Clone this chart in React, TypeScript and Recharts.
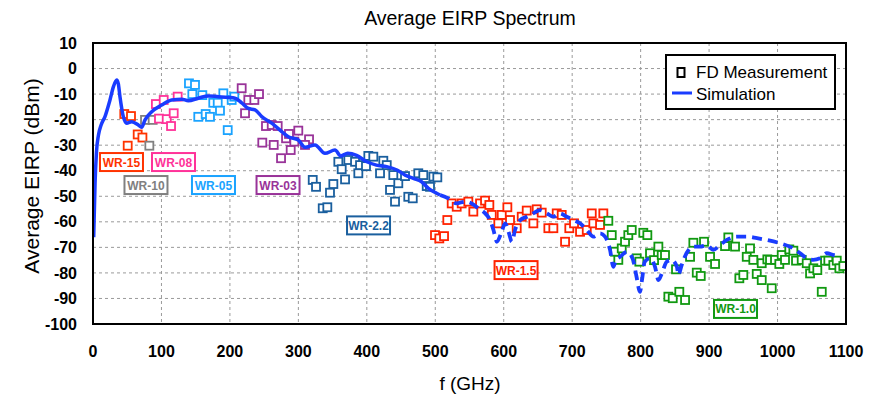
import React from "react";
import {
	CartesianGrid,
	ComposedChart,
	Line,
	ReferenceArea,
	ReferenceDot,
	Scatter,
	XAxis,
	YAxis,
} from "recharts";

type Pt = [number, number];

const xTicks = [0, 100, 200, 300, 400, 500, 600, 700, 800, 900, 1000, 1100];
const yTicks = [10, 0, -10, -20, -30, -40, -50, -60, -70, -80, -90, -100];

// measured points, [f (GHz), EIRP (dBm)]
const wr15: Pt[] = [
	[45.7, -17.8], [55.5, -18.6], [65.3, -25.8], [72.2, -27.0], [50.7, -30.2],
];
const wr10: Pt[] = [[76, -20.1], [87.2, -20.1], [82.3, -30.2]];
const wr08: Pt[] = [
	[91.9, -13.9], [103.3, -12.3], [123.7, -11.0], [96.4, -19.6],
	[107.7, -19.8], [117.9, -17.5], [114.0, -22.5],
];
const wr05: Pt[] = [
	[140.2, -5.8], [149.0, -6.4], [145.1, -10.0], [159.7, -10.4], [175.7, -13.4],
	[182.2, -13.4], [190.4, -9.7], [202.6, -12.3], [206.4, -11.0], [185.5, -16.5],
	[153.8, -18.9], [164.6, -17.8], [170.9, -18.9], [196.8, -24.1],
];
const wr03: Pt[] = [
	[217.2, -7.7], [226.9, -12.3], [235.7, -12.3], [242.5, -10.0], [222.1, -17.5],
	[252.7, -22.5], [261.1, -22.1], [269.8, -22.5], [282.0, -27.3], [286.3, -25.6],
	[299.9, -24.3], [294.1, -28.6], [315.6, -27.7], [247.3, -29.0], [264.0, -29.9],
	[288.8, -31.9], [274.7, -35.1], [309.7, -29.9],
];
const wr22: Pt[] = [
	[321.0, -43.6], [325.8, -46.3], [335.6, -54.7], [342.3, -54.3], [346.2, -48.6],
	[351.1, -45.2], [358.4, -36.5], [363.3, -39.4], [368.2, -43.4], [373.0, -35.8],
	[382.8, -36.5], [387.6, -41.0], [390.1, -37.8], [398.8, -38.2], [402.2, -34.2],
	[409.5, -34.5], [419.3, -41.0], [424.1, -36.1], [429.1, -37.8], [433.9, -47.5],
	[438.7, -41.7], [441.2, -52.1], [446.0, -44.9], [455.8, -42.1], [460.6, -50.2],
	[467.1, -50.8], [475.2, -41.0], [482.5, -41.7], [487.5, -46.0], [492.3, -46.3],
	[497.2, -42.3], [503.0, -42.6],
];
const wr1p5: Pt[] = [
	[524.0, -52.8], [531.3, -54.1], [538.6, -52.8], [548.3, -52.1], [555.6, -56.0],
	[565.4, -52.8], [572.7, -51.7], [579.0, -53.4], [582.5, -57.3], [592.1, -60.6],
	[597.1, -57.3], [605.3, -54.3], [609.2, -59.3], [619.0, -62.5], [626.3, -58.0],
	[633.6, -55.6], [643.3, -60.6], [648.2, -55.1], [655.5, -56.4], [665.2, -62.5],
	[672.5, -62.5], [677.4, -56.7], [684.7, -57.3], [689.6, -67.8], [695.8, -62.5],
	[702.7, -60.6], [711.5, -63.9], [721.3, -63.2], [728.6, -56.7], [730.9, -60.6],
	[740.7, -61.2], [745.5, -56.7], [517.6, -59.3], [499.6, -65.2], [505.9, -66.5],
	[512.8, -65.6],
];
const wr1p0: Pt[] = [
	[752.8, -59.6], [757.8, -65.2], [762.6, -71.7], [767.4, -74.9], [772.4, -70.4],
	[777.2, -67.8], [782.0, -65.2], [787.0, -63.2], [794.3, -74.3], [798.1, -75.6],
	[803.9, -64.3], [809.8, -65.2], [813.7, -72.3], [819.6, -75.0], [825.9, -69.7],
	[830.8, -73.0], [835.6, -73.0], [840.5, -89.3], [846.9, -89.9], [856.5, -87.4],
	[864.9, -90.6], [851.7, -78.6], [872.2, -73.7], [877.0, -68.2], [882.0, -79.9],
	[887.8, -81.2], [892.6, -67.8], [901.4, -73.7], [908.7, -76.5], [923.3, -69.5],
	[928.1, -66.1], [937.9, -69.7], [944.2, -82.1], [950.0, -80.8], [955.0, -73.7],
	[959.8, -70.4], [964.6, -74.9], [969.6, -80.4], [976.9, -82.8], [976.9, -76.2],
	[985.1, -74.7], [989.0, -74.9], [991.5, -86.0], [996.3, -74.9], [1002.6, -76.5],
	[1006.1, -73.0], [1010.9, -74.9], [1017.2, -70.8], [1023.1, -71.3], [1027.0, -75.2],
	[1035.3, -74.9], [1042.6, -76.2], [1047.5, -80.2], [1052.3, -78.2], [1058.1, -78.9],
	[1064.6, -87.4], [1069.4, -75.2], [1074.2, -75.2], [1081.5, -76.9], [1086.5, -75.2],
	[1090.3, -78.2], [1096.1, -77.3],
];

// simulation, solid part then dashed part
const simSolid: Pt[] = [
	[1, -66], [3, -45], [5, -33], [8, -26], [12, -22], [17.5, -18.8], [24.8, -12.3],
	[30, -7], [34.6, -4.5], [37, -6], [39.4, -11], [44.3, -18.8], [49.2, -21.4],
	[56.5, -20.8], [66.2, -22.1], [71.1, -23], [76, -20.1], [85.8, -16.9],
	[100.4, -14.3], [115, -12.3], [129.6, -12], [139.2, -12.6], [153.8, -11.6],
	[168.4, -10.7], [183.1, -11], [197.7, -11.3], [207.4, -11.6], [217.2, -13.4],
	[226.9, -15.6], [236.7, -16.2], [246.5, -18.8], [261.1, -21.4], [275.7, -24.7],
	[285.3, -26.7], [299.9, -28], [309.7, -30.8], [324.3, -29.9], [338.9, -33.2],
	[353.5, -31.9], [362, -34.2], [372, -33.2], [385, -34], [400, -36.5],
	[414, -37.8], [429, -38.4], [444, -39.7], [456, -41.7], [468, -43],
	[480, -44.3], [490, -46.9], [502, -48.8], [507, -49.5],
];
const simDashed: Pt[] = [
	[507, -49.5], [519, -50.8], [531, -52.8], [543.5, -52.1], [553, -52.8],
	[563, -54.7], [573, -56.7], [580, -59.3], [585, -63.2], [590, -67.8],
	[597, -63.9], [602, -60.6], [607, -63.9], [612, -67.8], [616.5, -63.2],
	[624, -59.3], [634, -58], [643, -56.7], [653, -55.4], [663, -56.7],
	[672.5, -58], [682, -56.7], [692, -58], [702, -59.3], [711.5, -60.6],
	[721.3, -63.2], [730.9, -65.8], [740.7, -64.5], [748, -65.8], [755.3, -71],
	[760.1, -77.6], [764, -74.9], [770, -73.7], [780, -71.7], [789, -74.9],
	[794, -81.5], [799, -87.4], [802, -82.8], [806, -75.6], [814, -74.3],
	[821, -77.6], [826, -82.8], [831, -80.2], [838, -75.6], [845, -74.9],
	[853, -77.6], [855, -80.8], [860, -76.9], [867, -72.3], [877, -69.7],
	[887, -69.7], [897, -69.1], [906, -71], [916, -69.1], [926, -67.1],
	[940, -65.8], [955, -65.8], [970, -66.4], [984, -67.1], [1004, -68.4],
	[1023, -70.4], [1033, -72.3], [1043, -74.3], [1052, -74.9], [1062, -74.3],
	[1072, -72.3], [1082, -73], [1091, -73.4],
];

// band labels: [text, f, v, colour]
const bandLabels: [string, number, number, string][] = [
	["WR-15", 41.6, -36.6, "#ff3300"],
	["WR-08", 117.6, -36.6, "#ff3399"],
	["WR-10", 77.4, -45.6, "#808080"],
	["WR-05", 176, -45.6, "#1aa3ff"],
	["WR-03", 270.3, -45.6, "#993399"],
	["WR-2.2", 402.5, -61.4, "#1a5f9e"],
	["WR-1.5", 618, -78.9, "#ff2200"],
	["WR-1.0", 938.6, -94.1, "#119911"],
];

const series: { name: string; pts: Pt[]; color: string }[] = [
	{ name: "WR-15", pts: wr15, color: "#ff3300" },
	{ name: "WR-10", pts: wr10, color: "#808080" },
	{ name: "WR-08", pts: wr08, color: "#ff3399" },
	{ name: "WR-05", pts: wr05, color: "#1aa3ff" },
	{ name: "WR-03", pts: wr03, color: "#993399" },
	{ name: "WR-2.2", pts: wr22, color: "#1a5f9e" },
	{ name: "WR-1.5", pts: wr1p5, color: "#ff2200" },
	{ name: "WR-1.0", pts: wr1p0, color: "#119911" },
];

const toRows = (pts: Pt[]) => pts.map(([f, v]) => ({ f, v }));

const FONT = "'Liberation Sans', Arial, Helvetica, sans-serif";
const BLUE = "#1a3cff";

const square = (color: string) => (props: any) => {
	const { cx, cy } = props;
	return (
		<rect
			x={cx - 4}
			y={cy - 4}
			width={8}
			height={8}
			fill="#fff"
			stroke={color}
			strokeWidth={1.8}
		/>
	);
};

const bandTag = (text: string, color: string) => (props: any) => {
	const { cx, cy } = props;
	return (
		<g>
			<rect
				x={cx - 21.5}
				y={cy - 9}
				width={43}
				height={18}
				fill="#fff"
				stroke={color}
				strokeWidth={2}
			/>
			<text
				x={cx}
				y={cy + 4.5}
				textAnchor="middle"
				fontFamily={FONT}
				fontWeight="bold"
				fontSize={12}
				fill={color}
			>
				{text}
			</text>
		</g>
	);
};

const App = () => {
	return (
		<div style={{ position: "absolute", left: 0, top: 0, background: "#fff" }}>
			<ComposedChart
				width={878}
				height={397}
				margin={{ top: 43, right: 32, bottom: 0, left: 0 }}
			>
				<CartesianGrid stroke="#9a9a9a" strokeDasharray="3 3" />
				<XAxis
					type="number"
					dataKey="f"
					domain={[0, 1100]}
					ticks={xTicks}
					interval={0}
					height={73}
					tickLine={false}
					axisLine={false}
					tickSize={8}
					tickMargin={14}
					tick={{ fontFamily: FONT, fontWeight: "bold", fontSize: 16, fill: "#000" }}
					allowDataOverflow
				/>
				<YAxis
					type="number"
					dataKey="v"
					domain={[-100, 10]}
					ticks={yTicks}
					interval={0}
					width={93}
					tickLine={false}
					axisLine={false}
					tickSize={6}
					tickMargin={10}
					tick={{ fontFamily: FONT, fontWeight: "bold", fontSize: 16, fill: "#000" }}
					allowDataOverflow
				/>
				{series.map((s) => (
					<Scatter
						key={s.name}
						name={s.name}
						data={toRows(s.pts)}
						dataKey="v"
						shape={square(s.color)}
						isAnimationActive={false}
					/>
				))}
				<Line
					data={toRows(simSolid)}
					dataKey="v"
					type="monotone"
					stroke={BLUE}
					strokeWidth={3.5}
					dot={false}
					activeDot={false}
					zIndex={700}
					isAnimationActive={false}
				/>
				<Line
					data={toRows(simDashed)}
					dataKey="v"
					type="monotone"
					stroke={BLUE}
					strokeWidth={3.8}
					strokeDasharray="10 6"
					dot={false}
					activeDot={false}
					zIndex={700}
					isAnimationActive={false}
				/>
				{bandLabels.map(([t, f, v, c]) => (
					<ReferenceDot key={t} x={f} y={v} r={1} shape={bandTag(t, c)} zIndex={800} />
				))}
				<ReferenceArea
					x1={0}
					x2={1100}
					y1={-100}
					y2={10}
					fill="none"
					fillOpacity={0}
					stroke="#000"
					strokeWidth={2}
					zIndex={800}
				/>
				<text
					x={470}
					y={25}
					textAnchor="middle"
					fontFamily={FONT}
					fontSize={19.5}
					fill="#000"
				>
					Average EIRP Spectrum
				</text>
				<text
					x={470}
					y={390}
					textAnchor="middle"
					fontFamily={FONT}
					fontSize={19}
					fill="#000"
				>
					f (GHz)
				</text>
				<text
					x={0}
					y={0}
					transform="translate(39,176) rotate(-90)"
					textAnchor="middle"
					fontFamily={FONT}
					fontSize={21}
					fill="#000"
				>
					Average EIRP (dBm)
				</text>
				<g>
					<rect x={666} y={55} width={169} height={54} fill="#fff" stroke="#000" strokeWidth={2} />
					<rect x={677.5} y={68} width={7} height={9} fill="#fff" stroke="#000" strokeWidth={2} />
					<text x={696} y={78} fontFamily={FONT} fontSize={17} fill="#000">
						FD Measurement
					</text>
					<line x1={672} y1={93} x2={692} y2={93} stroke={BLUE} strokeWidth={3} />
					<text x={696} y={99.5} fontFamily={FONT} fontSize={17} fill="#000">
						Simulation
					</text>
				</g>
			</ComposedChart>
		</div>
	);
};

export default App;
